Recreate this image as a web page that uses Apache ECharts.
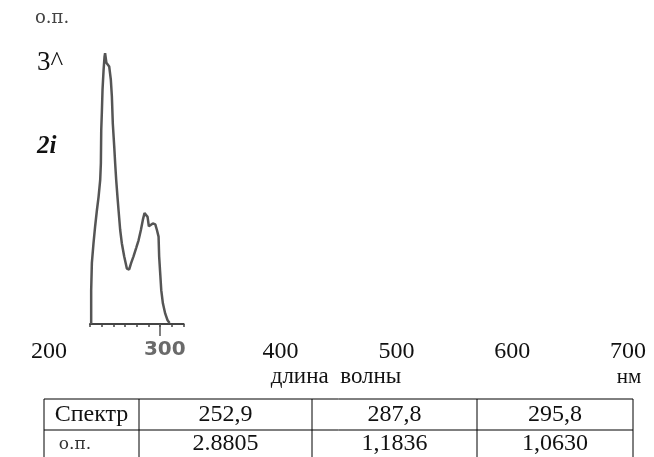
<!DOCTYPE html>
<html>
<head>
<meta charset="utf-8">
<script src="https://cdn.jsdelivr.net/npm/echarts@6/dist/echarts.min.js"></script>
<style>
  html, body { margin: 0; padding: 0; background: #fff; }
  #chart { width: 654px; height: 457px; }
</style>
</head>
<body>
<div id="chart"></div>
<script>
// спектр: длина волны (нм) и оптическая плотность
const wavelengths = [241, 241, 241.6, 243.0, 244.4, 245.9, 247.3, 248.7, 249.3, 249.6, 250.1, 250.7, 251.6, 252.4, 252.9,
  254.0, 255.0, 256.4, 257.8, 258.7, 259.5, 260.7, 261.5, 262.4, 263.5, 264.4, 265.8, 267.2, 269.2, 271.5, 273.5,
  275.2, 277.2, 279.5, 281.5, 283.5, 285.2, 286.6, 287.8, 289.2, 290.3, 292.0, 293.7, 295.8, 297.2, 298.6, 299.1,
  300.0, 300.9, 302.3, 304.3, 306.3, 308.0];
const absorbance = [0, 0.36, 0.65, 0.86, 1.04, 1.21, 1.35, 1.53, 1.71, 2.06, 2.24, 2.49, 2.70, 2.84, 2.88,
  2.78, 2.79, 2.74, 2.60, 2.42, 2.13, 1.89, 1.71, 1.53, 1.35, 1.21, 1.00, 0.86, 0.72, 0.59, 0.58,
  0.65, 0.72, 0.81, 0.89, 1.00, 1.11, 1.18, 1.18, 1.14, 1.04, 1.02, 1.07, 1.06, 1.00, 0.93, 0.72,
  0.54, 0.36, 0.22, 0.11, 0.04, 0.01];

// подписи оси x (отдельная строка под графиком)
const xTickLabels = [200, 300, 400, 500, 600, 700];

// таблица
const tableHead = ['Спектр', '252,9', '287,8', '295,8'];
const tableRow = ['о.п.', '2.8805', '1,1836', '1,0630'];

const serif = '"Liberation Serif", "DejaVu Serif", serif';

var myChart = echarts.init(document.getElementById('chart'));

// таблица рисуется через graphic
const colX = [44, 139, 312, 477, 633];
const tableTop = 399, rowMid = 430, tableBottom = 470;
const tableGraphic = [];
tableGraphic.push({
  type: 'rect',
  shape: { x: colX[0], y: tableTop, width: colX[4] - colX[0], height: tableBottom - tableTop },
  style: { fill: 'none', stroke: '#000', lineWidth: 1 }
});
tableGraphic.push({
  type: 'line',
  shape: { x1: colX[0], y1: rowMid, x2: colX[4], y2: rowMid },
  style: { stroke: '#000', lineWidth: 1 }
});
for (let i = 1; i < 4; i++) {
  tableGraphic.push({
    type: 'line',
    shape: { x1: colX[i], y1: tableTop, x2: colX[i], y2: tableBottom },
    style: { stroke: '#000', lineWidth: 1 }
  });
}
tableHead.forEach((t, i) => {
  tableGraphic.push({
    type: 'text',
    x: (colX[i] + colX[i + 1]) / 2, y: 415,
    style: { text: t, font: '24px ' + serif, fill: '#111', align: 'center', verticalAlign: 'middle' }
  });
});
tableRow.forEach((t, i) => {
  tableGraphic.push({
    type: 'text',
    x: i === 0 ? 75 : (colX[i] + colX[i + 1]) / 2, y: i === 0 ? 445 : 444,
    style: { text: t, font: i === 0 ? '17px "DejaVu Serif", serif' : '24px ' + serif, fill: i === 0 ? '#333' : '#111',
      align: 'center', verticalAlign: 'middle' }
  });
});

var option = {
  animation: false,
  grid: [
    // маленький график спектра
    { left: 90, top: 42, width: 93.6, height: 282, outerBoundsMode: 'none' },
    // строка подписей 200..700
    { left: 49, top: 329, width: 579, height: 1, outerBoundsMode: 'none' }
  ],
  xAxis: [
    {
      gridIndex: 0, type: 'value', min: 240, max: 320, interval: 10,
      axisLine: { lineStyle: { color: '#444', width: 2 } },
      axisTick: { length: 3, lineStyle: { color: '#444', width: 1.5 } },
      axisLabel: { show: false },
      splitLine: { show: false }
    },
    {
      // длинная риска у 300
      gridIndex: 0, type: 'value', position: 'bottom', min: 240, max: 320,
      axisLine: { show: false },
      axisTick: { customValues: [300], length: 12, lineStyle: { color: '#555', width: 1.5 } },
      axisLabel: { show: false },
      splitLine: { show: false }
    },
    {
      gridIndex: 1, type: 'value', min: 200, max: 700, interval: 100,
      axisLine: { show: false },
      axisTick: { show: false },
      splitLine: { show: false },
      axisLabel: {
        margin: 10,
        fontFamily: serif, fontSize: 24, color: '#111',
        formatter: v => v === 300 ? '{s|300}' : String(v),
        rich: {
          s: { fontFamily: '"DejaVu Sans", sans-serif', fontSize: 20, fontWeight: 'bold', color: '#6a6a6a' }
        }
      }
    }
  ],
  yAxis: [
    { gridIndex: 0, type: 'value', min: 0, max: 3, show: false },
    { gridIndex: 1, type: 'value', show: false }
  ],
  graphic: [
    { type: 'text', x: 35, y: 18, style: { text: 'о.п.', font: '18px "DejaVu Serif", serif', fill: '#444', verticalAlign: 'middle' } },
    { type: 'text', x: 37, y: 63, style: { text: '3^', font: '27px ' + serif, fill: '#111', verticalAlign: 'middle' } },
    { type: 'text', x: 37, y: 147, style: { text: '2i', font: 'italic bold 25px ' + serif, fill: '#111', verticalAlign: 'middle' } },
    { type: 'text', x: 336, y: 377, style: { text: 'длина  волны', font: '23px ' + serif, fill: '#111', align: 'center', verticalAlign: 'middle' } },
    { type: 'text', x: 629, y: 377, style: { text: 'нм', font: '21px ' + serif, fill: '#111', align: 'center', verticalAlign: 'middle' } }
  ].concat(tableGraphic),
  series: [
    {
      type: 'line',
      xAxisIndex: 0, yAxisIndex: 0,
      data: wavelengths.map((w, i) => [w, absorbance[i]]),
      showSymbol: false,
      lineStyle: { color: '#555', width: 2.5 }
    }
  ]
};

myChart.setOption(option);
</script>
</body>
</html>
